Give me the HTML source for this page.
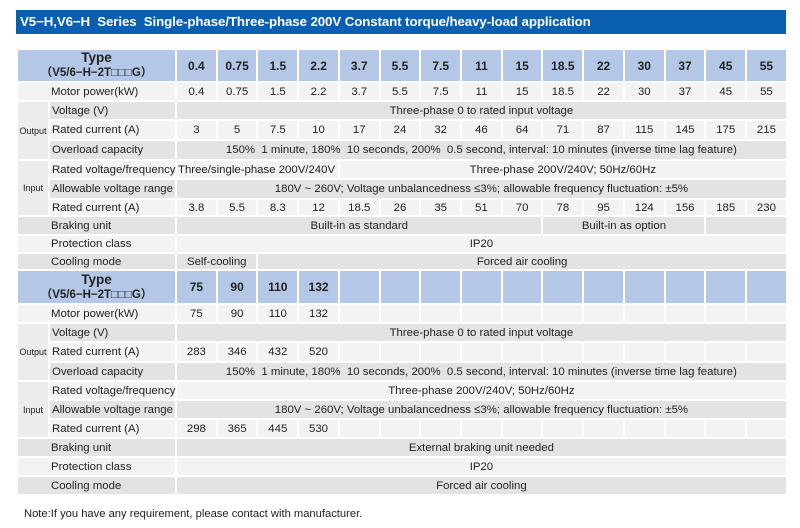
<!DOCTYPE html>
<html><head><meta charset="utf-8">
<style>
body{margin:0;width:800px;height:528px;background:#fff;font-family:"Liberation Sans","Noto Sans CJK SC",sans-serif;position:relative;overflow:hidden}
.title{position:absolute;left:16px;top:10px;width:770px;height:24px;background:#0b5fb0;color:#fff;font-weight:bold;font-size:13.3px;line-height:24px;padding-left:4px;box-sizing:border-box;letter-spacing:-0.1px}
table{position:absolute;left:16px;border-collapse:collapse;table-layout:fixed;width:770px;font-size:11.4px;color:#222}
td{border:2px solid #fff;padding:0;text-align:center;white-space:nowrap;overflow:visible}
tr.h td{background:#b4c7e7;font-weight:bold;font-size:12px}
tr.h td.type{line-height:14px;font-size:13.5px}
tr.h td.type span{font-size:11.5px}
tr.a td{background:#f3f3f3}
tr.b td{background:#e3e3e3}
td.l{text-align:left;padding-left:2px}
td.g{font-size:9px;background:#ececec !important}
.note{position:absolute;left:24px;top:508px;font-size:11.2px;color:#222}
</style></head><body>
<div class="title">V5−H,V6−H&nbsp; Series&nbsp; Single-phase/Three-phase 200V Constant torque/heavy-load application</div>

<table style="top:48px">
<colgroup><col style="width:32px"><col style="width:127px"><col span="15" style="width:40.73px"></colgroup>
<tr class="h" style="height:33px"><td colspan="2" class="type">Type<br><span>（V5/6−H−2T□□□G）</span></td><td>0.4</td><td>0.75</td><td>1.5</td><td>2.2</td><td>3.7</td><td>5.5</td><td>7.5</td><td>11</td><td>15</td><td>18.5</td><td>22</td><td>30</td><td>37</td><td>45</td><td>55</td></tr>
<tr class="a" style="height:19px"><td colspan="2" class="l" style="padding-left:33px">Motor power(kW)</td><td>0.4</td><td>0.75</td><td>1.5</td><td>2.2</td><td>3.7</td><td>5.5</td><td>7.5</td><td>11</td><td>15</td><td>18.5</td><td>22</td><td>30</td><td>37</td><td>45</td><td>55</td></tr>
<tr class="b" style="height:19px"><td rowspan="3" class="g">Output</td><td class="l">Voltage (V)</td><td colspan="15">Three-phase 0 to rated input voltage</td></tr>
<tr class="a" style="height:20px"><td class="l">Rated current (A)</td><td>3</td><td>5</td><td>7.5</td><td>10</td><td>17</td><td>24</td><td>32</td><td>46</td><td>64</td><td>71</td><td>87</td><td>115</td><td>145</td><td>175</td><td>215</td></tr>
<tr class="b" style="height:20px"><td class="l">Overload capacity</td><td colspan="15">150%&nbsp; 1 minute, 180%&nbsp; 10 seconds, 200%&nbsp; 0.5 second, interval: 10 minutes (inverse time lag feature)</td></tr>
<tr class="a" style="height:19px"><td rowspan="3" class="g">Input</td><td class="l">Rated voltage/frequency</td><td colspan="4" class="l" style="padding-left:1px">Three/single-phase 200V/240V</td><td colspan="11">Three-phase 200V/240V; 50Hz/60Hz</td></tr>
<tr class="b" style="height:20px"><td class="l">Allowable voltage range</td><td colspan="15">180V ~ 260V; Voltage unbalancedness ≤3%; allowable frequency fluctuation: ±5%</td></tr>
<tr class="a" style="height:17px"><td class="l">Rated current (A)</td><td>3.8</td><td>5.5</td><td>8.3</td><td>12</td><td>18.5</td><td>26</td><td>35</td><td>51</td><td>70</td><td>78</td><td>95</td><td>124</td><td>156</td><td>185</td><td>230</td></tr>
<tr class="b" style="height:19px"><td colspan="2" class="l" style="padding-left:33px">Braking unit</td><td colspan="9">Built-in as standard</td><td colspan="4">Built-in as option</td><td colspan="2"></td></tr>
<tr class="a" style="height:18px"><td colspan="2" class="l" style="padding-left:33px">Protection class</td><td colspan="15">IP20</td></tr>
<tr class="b" style="height:18px"><td colspan="2" class="l" style="padding-left:33px">Cooling mode</td><td colspan="2">Self-cooling</td><td colspan="13">Forced air cooling</td></tr>
</table>

<table style="top:269px">
<colgroup><col style="width:32px"><col style="width:127px"><col span="15" style="width:40.73px"></colgroup>
<tr class="h" style="height:34px"><td colspan="2" class="type">Type<br><span>（V5/6−H−2T□□□G）</span></td><td>75</td><td>90</td><td>110</td><td>132</td><td></td><td></td><td></td><td></td><td></td><td></td><td></td><td></td><td></td><td></td><td></td></tr>
<tr class="a" style="height:19px"><td colspan="2" class="l" style="padding-left:33px">Motor power(kW)</td><td>75</td><td>90</td><td>110</td><td>132</td><td></td><td></td><td></td><td></td><td></td><td></td><td></td><td></td><td></td><td></td><td></td></tr>
<tr class="b" style="height:19px"><td rowspan="3" class="g">Output</td><td class="l">Voltage (V)</td><td colspan="15">Three-phase 0 to rated input voltage</td></tr>
<tr class="a" style="height:20px"><td class="l">Rated current (A)</td><td>283</td><td>346</td><td>432</td><td>520</td><td></td><td></td><td></td><td></td><td></td><td></td><td></td><td></td><td></td><td></td><td></td></tr>
<tr class="b" style="height:19px"><td class="l">Overload capacity</td><td colspan="15">150%&nbsp; 1 minute, 180%&nbsp; 10 seconds, 200%&nbsp; 0.5 second, interval: 10 minutes (inverse time lag feature)</td></tr>
<tr class="a" style="height:19px"><td rowspan="3" class="g">Input</td><td class="l">Rated voltage/frequency</td><td colspan="15">Three-phase 200V/240V; 50Hz/60Hz</td></tr>
<tr class="b" style="height:19px"><td class="l">Allowable voltage range</td><td colspan="15">180V ~ 260V; Voltage unbalancedness ≤3%; allowable frequency fluctuation: ±5%</td></tr>
<tr class="a" style="height:19px"><td class="l">Rated current (A)</td><td>298</td><td>365</td><td>445</td><td>530</td><td></td><td></td><td></td><td></td><td></td><td></td><td></td><td></td><td></td><td></td><td></td></tr>
<tr class="b" style="height:19px"><td colspan="2" class="l" style="padding-left:33px">Braking unit</td><td colspan="15">External braking unit needed</td></tr>
<tr class="a" style="height:19px"><td colspan="2" class="l" style="padding-left:33px">Protection class</td><td colspan="15">IP20</td></tr>
<tr class="b" style="height:19px"><td colspan="2" class="l" style="padding-left:33px">Cooling mode</td><td colspan="15">Forced air cooling</td></tr>
</table>

<div class="note">Note:If you have any requirement, please contact with manufacturer.</div>
</body></html>
